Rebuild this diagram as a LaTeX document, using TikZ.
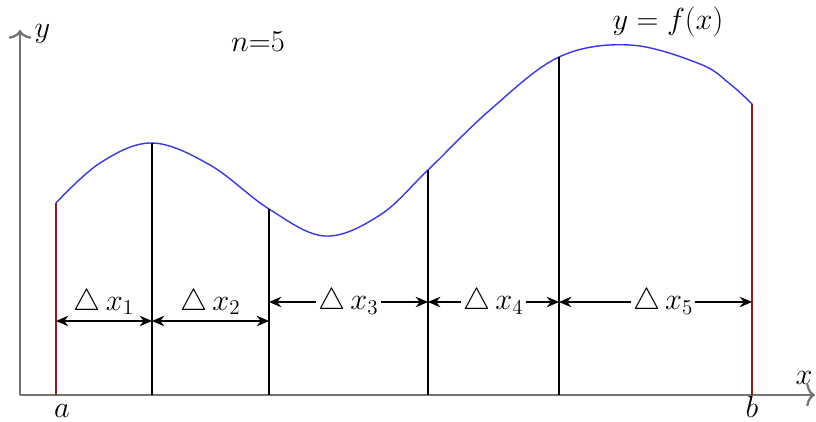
\documentclass[tikz,border=0pt]{standalone}
\usepackage{amsmath, amssymb}
\usepackage{xcolor}
\usepackage{tikz}
\usetikzlibrary{calc, arrows.meta}
\definecolor{curveblue}{RGB}{55,55,235}
\definecolor{edgered}{RGB}{150,25,20}
\tikzset{every node/.append style={font=\fontsize{17}{20}\selectfont}}
\tikzset{ordinate/.style={line width=1.6pt, black},
         endline/.style={line width=1.1pt, edgered},
         axis/.style={line width=1.3pt, gray!90!black, -{To[length=5pt, width=13pt]}},
         dim/.style={thick, >={Stealth[length=7pt, width=6pt]}}}

\begin{document}
\begin{tikzpicture}
    \useasboundingbox (0,0) rectangle (16.32,8.42);
    % axes
    \coordinate (O) at (0.4,0.52);
    \draw[axis] (O) -- (16.3,0.52);
    \draw[axis] (O) -- (0.4,7.82);
    \node (xl) at (16.08,0.86) {$x$};
    \node (yl) at (0.85,7.74) {$y$};
    \node (nl) at (5.16,7.58) {$n{=}5$};
    % base points and curve points
    \coordinate (x0) at (1.12,0.52);  \coordinate (t0) at (1.12,4.36);
    \coordinate (x1) at (3.04,0.52);  \coordinate (t1) at (3.04,5.56);
    \coordinate (x2) at (5.38,0.52);  \coordinate (t2) at (5.38,4.24);
    \coordinate (x3) at (8.56,0.52);  \coordinate (t3) at (8.56,5.02);
    \coordinate (x4) at (11.18,0.52); \coordinate (t4) at (11.18,7.28);
    \coordinate (x5) at (15.04,0.52); \coordinate (t5) at (15.04,6.34);
    \coordinate (lo) at (0,2.0);
    \coordinate (hi) at (0,2.38);
    % the curve
    \draw[curveblue, line width=0.8pt] plot[smooth, tension=0.6] coordinates
        {(1.12,4.36) (2.0,5.16) (3.04,5.56) (4.2,5.12) (5.38,4.24) (6.5,3.70)
         (7.6,4.12) (8.56,5.02) (9.8,6.22) (11.18,7.28) (12.6,7.52) (14.0,7.14)
         (14.6,6.74) (15.04,6.34)};
    \node (fl) at (13.36,7.98) {$y = f(x)$};
    % ordinates
    \draw[endline] (x0) -- (t0);
    \draw[endline] (x5) -- (t5);
    \foreach \i in {1,...,4}
        \draw[ordinate] (x\i) -- (t\i);
    \node[anchor=base, inner sep=0.5pt] (al) at (1.24,0.08) {$a$};
    \node[anchor=base, inner sep=0.5pt] (bl) at (15.04,0.08) {$b$};
    % widths
    \draw[dim, <->] (x0 |- lo) -- (x1 |- lo) node[midway, above=-1pt] (d1) {$\triangle\, x_1$};
    \draw[dim, <->] (x1 |- lo) -- (x2 |- lo) node[midway, above=-1pt] (d2) {$\triangle\, x_2$};
    \node[inner sep=1pt] (d3) at ($(x2 |- hi)!0.5!(x3 |- hi)$) {$\triangle\, x_3$};
    \node[inner sep=1pt] (d4) at ($(x3 |- hi)!0.5!(x4 |- hi)$) {$\triangle\, x_4$};
    \node[inner sep=1pt] (d5) at ($(x4 |- hi)!0.54!(x5 |- hi)$) {$\triangle\, x_5$};
    \foreach \k/\l/\r in {3/2/3, 4/3/4, 5/4/5} {
        \draw[dim, ->] (d\k.west |- hi) -- (x\l |- hi);
        \draw[dim, ->] (d\k.east |- hi) -- (x\r |- hi);
    }
\end{tikzpicture}
\end{document}
